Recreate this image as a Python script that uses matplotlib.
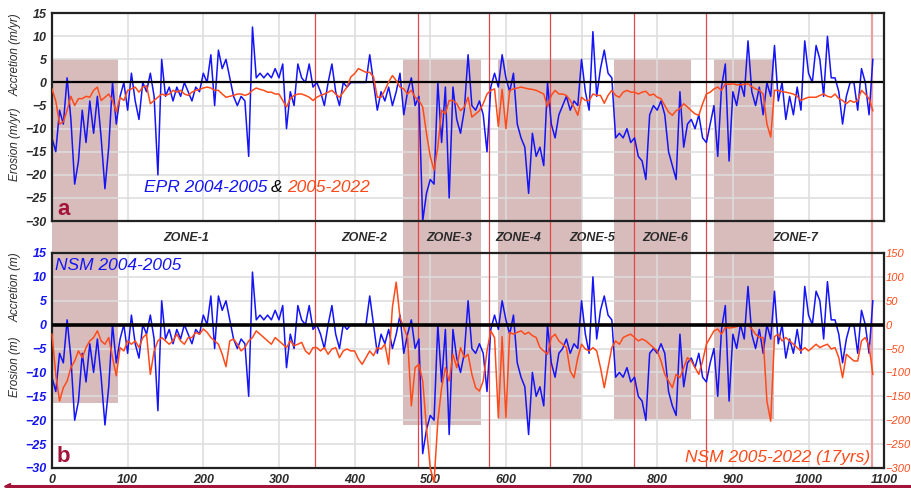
import numpy as np
import matplotlib
matplotlib.use("Agg")
import matplotlib.pyplot as plt
from matplotlib.patches import Rectangle
from matplotlib.lines import Line2D

plt.rcParams['font.family'] = ['Liberation Sans', 'DejaVu Sans']

# -----------------------------
# Data (one value every 5 transects, 0 ... 1085)
# -----------------------------
step = 5

# EPR 2004-2005 (m/yr)
epr_0405 = [
    -12, -15, -6, -9, 1, -8, -22, -17, -6, -13, -4, -11, -3, -12, -23, -14, 0, -9, -3, 0,
    -6, 2, -4, -8, 0, -2, 2, -3, -20, 5, -3, -1, -4, -1, -3, 0, -2, -4, -1, -2,
    2, 0, 6, -5, 7, 3, 5, 1, -3, -5, -3, -4, -16, 12, 1, 2, 1, 2, 1, 3,
    1, 4, -10, -2, -5, 4, 1, 0, 4, -1, 0, -2, -5, 0, 4, -2, -5, 0, -1, 0,
    0, 0, 0, 0, 6, 0, -6, -2, -4, -1, -5, -2, 2, -7, -2, 1, -5, -3, -30, -24,
    -21, -22, 0, -13, -1, -25, -1, -8, -11, -6, 6, -5, -6, -4, -7, -15, -1, 2, -1, 6,
    1, -2, 2, -9, -12, -14, -24, -11, -16, -14, -18, 0, -9, -12, -7, -5, -3, -6, -4, -5,
    5, -2, -6, 11, -3, 3, 7, 2, 1, -12, -11, -12, -10, -13, -12, -16, -17, -21, -7, -5,
    -6, -4, -7, -15, -18, -21, -2, -14, -9, -8, -10, -7, -12, -13, -9, -5, -16, -1, 4, -17,
    -2, -5, 0, -3, 9, -2, -5, -1, -7, 0, -3, 8, -4, 0, -8, -3, -7, -1, -6, 9,
    2, 0, 8, 5, -3, 10, 1, 1, -2, -9, -3, 0, 0, -6, 3, 0, -7, 5,
]

# EPR 2005-2022 (m/yr)
epr_0522 = [
    -1.4, -4, -9, -8.5, -6, -3, -5, -3.5, -3.5, -3, -3.2, -1.7, -1, -3.9, -3.2, -2.5, -3.9, -6.4, -3.2, -3.9,
    -1.7, -1.4, -1.0, -2.1, -1.0, -0.7, -4.6, -3.9, -3.2, -2.5, -2.8, -2.5, -1.7, -2.1, -1.7, -2.5, -2.8, -2.1, -1.7, -1.5,
    -1.2, -1.0, -1.2, -1.7, -1.7, -2.5, -3.2, -3.0, -2.8, -2.5, -2.5, -2.8, -2.5, -1.7, -1.2, -1.5, -1.7, -2.1, -2.1, -2.5,
    -2.5, -3.9, -5.3, -3.5, -2.8, -2.5, -2.5, -2.8, -3.2, -3.9, -3.2, -2.8, -2.5, -2.1, -1.7, -2.5, -3.2, -2.1, -1.0, 1.2,
    1.9, 3.0, 2.6, 2.2, 2.2, 1.2, -3.2, -3.2, -1.7, 0.1, 1.5, 0.4, -1.0, -1.4, -2.5, -1.7, -3.2, -3.9, -5.3, -11,
    -16, -19, -14, -6, -6.8, -3.9, -3.9, -4.6, -6.1, -5.3, -3.2, -7.5, -6.8, -6.1, -4.6, -2.5, -1.7, -1.4, -9.5, -1.5,
    -10, -1.7, -1.4, -1.2, -1.0, -1.2, -1.4, -1.5, -1.7, -2.1, -2.5, -5.3, -2.8, -1.7, -2.5, -2.5, -2.8, -3.9, -5.3, -7.1,
    -3.2, -3.9, -3.9, -2.5, -2.8, -2.8, -4.5, -2.8, -1.7, -2.8, -3.2, -2.1, -1.7, -2.1, -2.1, -2.5, -2.1, -1.9, -2.8, -2.5,
    -3.2, -3.5, -5.0, -6.4, -7.1, -6.1, -5.7, -4.6, -5.3, -6.1, -6.8, -7.1, -4.6, -2.5, -2.1, -1.4, -1.0, -1.7, -0.3, -0.4,
    -0.3, -0.5, -0.5, -0.4, -0.3, -0.9, -1.4, -1.7, -2.5, -9, -11.8, -1.7, -1.7, -2.0, -2.1, -2.3, -2.5, -3.0, -3.9, -3.5,
    -3.2, -3.2, -3.2, -2.8, -2.5, -3.0, -3.2, -2.5, -3.5, -3.9, -4.6, -3.9, -4.3, -3.9, -1.7, -2.5, -3.5, -6.1,
]

# NSM 2004-2005 (m)
nsm_0405 = [
    -11, -14, -6, -8, 1, -7, -20, -16, -6, -12, -4, -10, -3, -11, -21, -13, 0, -8, -3, 0,
    -6, 2, -4, -7, 0, -2, 2, -3, -18, 5, -3, -1, -4, -1, -3, 0, -2, -4, -1, -2,
    2, 0, 6, -5, 6, 3, 5, 1, -3, -5, -3, -4, -15, 11, 1, 2, 1, 2, 1, 3,
    1, 4, -9, -2, -5, 4, 1, 0, 4, -1, 0, -2, -5, 0, 4, -2, -5, 0, -1, 0,
    0, 0, 0, 0, 6, 0, -6, -2, -4, -1, -5, -2, 2, -6, -2, 1, -5, -3, -27, -22,
    -19, -20, 0, -12, -1, -23, -1, -7, -10, -6, 5, -5, -6, -4, -6, -14, -1, 2, -1, 5,
    1, -2, 2, -8, -11, -13, -23, -10, -15, -13, -17, 0, -8, -11, -6, -5, -3, -6, -4, -5,
    5, -2, -6, 10, -3, 3, 6, 2, 1, -11, -10, -11, -9, -12, -11, -15, -16, -20, -6, -5,
    -6, -4, -6, -14, -17, -19, -2, -13, -8, -7, -9, -6, -11, -12, -8, -5, -15, -1, 4, -16,
    -2, -5, 0, -3, 8, -2, -5, -1, -6, 0, -3, 7, -4, 0, -7, -3, -6, -1, -6, 8,
    2, 0, 7, 5, -3, 9, 1, 1, -2, -8, -3, 0, 0, -6, 3, 0, -6, 5,
]

# NSM 2005-2022 (m), right axis
nsm_0522 = [
    -20, -104, -160, -132, -118, -90, -76, -55, -69, -48, -34, -27, -13, -34, -41, -27, -69, -107, -48, -55,
    -34, -41, -34, -48, -27, -20, -104, -55, -34, -27, -34, -41, -34, -20, -34, -41, -27, -27, -16, -20,
    -9, -16, -27, -34, -41, -62, -88, -34, -30, -41, -55, -48, -34, -27, -13, -20, -27, -34, -41, -27,
    -34, -41, -48, -34, -44, -41, -37, -55, -62, -48, -48, -55, -48, -62, -51, -48, -69, -55, -51, -55,
    -55, -72, -83, -69, -55, -65, -48, -51, -41, -83, 37, 89, 15, -6, -27, -170, -90, -83, -118, -216,
    -300, -330, -202, -132, -90, -118, -62, -90, -48, -69, -62, -104, -132, -139, -118, -55, -13, -27, -195, -25,
    -195, -16, -20, -16, -13, -20, -16, -23, -27, -48, -55, -62, -27, -20, -34, -41, -48, -97, -111, -69,
    -41, -51, -55, -48, -55, -90, -132, -90, -48, -34, -41, -27, -23, -20, -27, -34, -30, -34, -41, -48,
    -55, -76, -104, -118, -132, -104, -111, -90, -69, -76, -90, -104, -76, -41, -27, -13, -9, -20, -6, -7,
    -6, -4, -2, -1, 0, -9, -20, -27, -27, -160, -202, -25, -20, -34, -27, -34, -41, -48, -55, -48,
    -55, -48, -41, -48, -44, -41, -51, -48, -69, -111, -62, -69, -76, -76, -34, -27, -44, -104,
]

# shaded erosion hotspots: (start, end, lower limit in panel b)
hotspots = [(0, 87, -16.5), (464, 567, -21.1), (590, 700, -19.7),
            (743, 844, -19.7), (875, 955, -19.7)]
boundaries = [347, 484, 578, 658, 769, 864]
zone_names = ['ZONE-1', 'ZONE-2', 'ZONE-3', 'ZONE-4', 'ZONE-5', 'ZONE-6', 'ZONE-7']
zone_pos = [178, 413, 525, 616, 714, 811, 983]

x = np.arange(len(epr_0405)) * step

blue = '#1414f5'
orange = '#ff4a1a'
shade = '#d8bcbc'
dark = '#2b2b2b'
maroon = '#a3143a'

fig = plt.figure(figsize=(9.12, 4.88), dpi=100)
ax1 = fig.add_axes([0.057, 0.547, 0.9125, 0.426])
ax2 = fig.add_axes([0.057, 0.041, 0.9125, 0.4406])
ax2r = ax2.twinx()

for ax in (ax1, ax2):
    ax.set_xlim(0, 1100)
    ax.set_ylim(-30, 15)
    ax.set_yticks(np.arange(-30, 16, 5))
    ax.set_xticks(np.arange(0, 1101, 100))
    ax.set_axisbelow(True)
    ax.grid(True, color='#dddddd', linewidth=1.1)
    for s in ax.spines.values():
        s.set_linewidth(1.6)
        s.set_color('#222222')
    ax.tick_params(length=0, pad=4)

# hotspots
for x0, x1, low in hotspots:
    ax1.add_patch(Rectangle((x0, -37), x1 - x0, 42, facecolor=shade,
                            edgecolor='none', zorder=0.1, clip_on=False))
    ax2.add_patch(Rectangle((x0, low), x1 - x0, 15 - low, facecolor=shade,
                            edgecolor='none', zorder=0.1))

# zone boundaries
for b in boundaries:
    ax1.axvline(b, ymin=-0.155, ymax=1, color='#e04848', lw=0.9, zorder=0.6, clip_on=False)
    ax2.axvline(b, color='#e04848', lw=0.9, zorder=0.6)
ax1.axvline(1084, ymin=-0.155, ymax=1, color='#eaa0a0', lw=1.6, zorder=0.6, clip_on=False)
ax2.axvline(1084, color='#eaa0a0', lw=1.6, zorder=0.6)

for name, p in zip(zone_names, zone_pos):
    ax1.text(p, -33.7, name, ha='center', va='center', fontsize=9,
             fontweight='bold', fontstyle='italic', color=dark, zorder=5, clip_on=False)

# panel a
ax1.plot(x, epr_0405, color=blue, lw=1.1, zorder=2)
ax1.plot(x, epr_0522, color=orange, lw=1.1, zorder=3)
ax1.axhline(0, color='black', lw=1.6, zorder=2.5)
ax1.set_xticklabels([])
for lab in ax1.get_yticklabels():
    lab.set_fontweight('bold')
    lab.set_fontstyle('italic')
    lab.set_color(dark)
    lab.set_fontsize(9)

t1 = ax1.text(0.110, 0.161, 'EPR 2004-2005', transform=ax1.transAxes, color=blue,
              fontsize=12.5, fontstyle='italic', va='center', ha='left')
t2 = ax1.annotate('&', xy=(1, 0.5), xycoords=t1, xytext=(3, 0), textcoords='offset points',
                  color='black', fontsize=12.5, fontstyle='italic', va='center', ha='left')
ax1.annotate('2005-2022', xy=(1, 0.5), xycoords=t2, xytext=(3, 0), textcoords='offset points',
             color=orange, fontsize=12.5, fontstyle='italic', va='center', ha='left')
ax1.text(0.007, 0.03, 'a', transform=ax1.transAxes, color=maroon, fontsize=16,
         fontweight='bold', va='baseline', ha='left')
ax1.text(-0.044, 0.80, 'Accretion (m/yr)', transform=ax1.transAxes, rotation=90,
         ha='center', va='center', fontsize=8.5, fontstyle='italic', color=dark)
ax1.text(-0.044, 0.37, 'Erosion (m/yr)', transform=ax1.transAxes, rotation=90,
         ha='center', va='center', fontsize=8.5, fontstyle='italic', color=dark)

# panel b
ax2.plot(x, nsm_0405, color=blue, lw=1.1, zorder=2)
ax2r.plot(x, nsm_0522, color=orange, lw=1.1, zorder=3, clip_on=False)
ax2r.axhline(0, color='black', lw=2.6, zorder=4)
ax2r.set_ylim(-300, 150)
ax2r.set_yticks(np.arange(-300, 151, 50))
ax2r.tick_params(length=0, pad=1)
for s in ax2r.spines.values():
    s.set_visible(False)
for lab in ax2.get_yticklabels():
    lab.set_fontweight('bold')
    lab.set_fontstyle('italic')
    lab.set_color(blue)
    lab.set_fontsize(9)
for lab in ax2r.get_yticklabels():
    lab.set_fontstyle('italic')
    lab.set_color(orange)
    lab.set_fontsize(8)
for lab in ax2.get_xticklabels():
    lab.set_fontweight('bold')
    lab.set_fontstyle('italic')
    lab.set_color(dark)
    lab.set_fontsize(9)

ax2.text(0.004, 0.944, 'NSM 2004-2005', transform=ax2.transAxes, color=blue,
         fontsize=12.5, fontstyle='italic', va='center', ha='left')
ax2.text(0.983, 0.047, 'NSM 2005-2022 (17yrs)', transform=ax2.transAxes, color=orange,
         fontsize=12.5, fontstyle='italic', va='center', ha='right', zorder=6)
ax2.text(0.006, 0.028, 'b', transform=ax2.transAxes, color=maroon, fontsize=16,
         fontweight='bold', va='baseline', ha='left')
ax2.text(-0.044, 0.84, 'Accretion (m)', transform=ax2.transAxes, rotation=90,
         ha='center', va='center', fontsize=8.5, fontstyle='italic', color=dark)
ax2.text(-0.044, 0.47, 'Erosion (m)', transform=ax2.transAxes, rotation=90,
         ha='center', va='center', fontsize=8.5, fontstyle='italic', color=dark)

# bottom rule with arrow
fig.add_artist(Line2D([0.008, 1.0], [0.004, 0.004], color=maroon, lw=2.2))
fig.add_artist(Line2D([0.008], [0.004], marker='<', color=maroon, markersize=5))

fig.savefig('out.png', dpi=100)
